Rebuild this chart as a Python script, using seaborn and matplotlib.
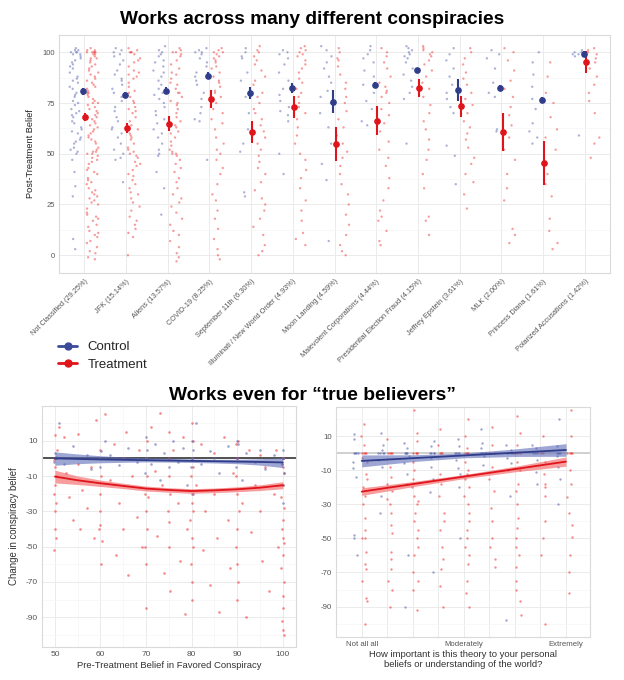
import numpy as np
import pandas as pd
import seaborn as sns
import matplotlib.pyplot as plt
from matplotlib.lines import Line2D

# ---------------- data: top panel (belief by conspiracy) ----------------
cat_labels = ['Not Classified (29.25%)', 'JFK (15.14%)', 'Aliens (13.57%)', 'COVID-19 (8.25%)',
              'September 11th (6.30%)', 'Illuminati / New World Order (4.93%)', 'Moon Landing (4.59%)',
              'Malevolent Corporations (4.44%)', 'Presidential Election Fraud (4.15%)',
              'Jeffrey Epstein (3.61%)', 'MLK (2.00%)', 'Princess Diana (1.61%)',
              'Polarized Accusations (1.42%)']

ctrl_mean = [80.7, 79.0, 81.0, 88.5, 79.8, 82.5, 75.7, 84.1, 91.1, 81.5, 82.6, 76.4, 99.2]
ctrl_ci = [1.7, 1.6, 1.8, 1.9, 3.0, 2.5, 5.6, 1.1, 1.1, 5.5, 1.5, 1.4, 1.6]
treat_mean = [68.0, 62.6, 64.8, 77.0, 60.8, 73.0, 54.8, 66.2, 82.3, 73.3, 60.8, 45.4, 95.2]
treat_ci = [2.0, 2.5, 3.7, 4.5, 5.5, 5.5, 8.6, 7.2, 4.3, 5.0, 9.2, 11.0, 5.5]

ctrl_points = [
    [100, 101, 99, 102, 98, 97, 100, 95, 93, 101, 90, 96, 88, 92, 85, 87, 83, 80, 82, 78, 76, 75, 74, 72,
     70, 71, 68, 66, 65, 63, 62, 60, 58, 57, 55, 52, 51, 50, 53, 47, 41, 34, 29, 8, 3, 99, 100, 94, 86,
     79, 69, 61, 56],
    [102, 100, 98, 101, 96, 94, 91, 89, 87, 84, 82, 80, 78, 76, 73, 71, 68, 66, 63, 60, 58, 55, 52, 50,
     48, 47, 36, 99, 86, 62],
    [103, 101, 100, 99, 98, 96, 95, 93, 91, 90, 88, 86, 84, 82, 80, 79, 77, 75, 73, 71, 69, 67, 65, 62,
     60, 58, 55, 52, 50, 49, 41, 33, 20],
    [102, 101, 100, 100, 99, 97, 95, 93, 90, 88, 86, 84, 80, 77, 73, 70, 67, 66, 47],
    [102, 100, 98, 97, 90, 86, 78, 70, 62, 55, 51, 31, 29],
    [101, 100, 99, 97, 94, 90, 86, 82, 79, 76, 73, 71, 69, 66, 50, 40],
    [103, 101, 98, 95, 92, 88, 85, 81, 78, 75, 70, 63, 55, 45, 37, 7],
    [103, 101, 99, 97, 95, 91, 88, 84, 80, 76, 72, 66, 64],
    [103, 102, 101, 100, 99, 98, 97, 95, 92, 89, 86, 83, 80, 77, 55],
    [102, 99, 96, 92, 88, 84, 80, 77, 73, 70, 54, 49, 35],
    [101, 99, 97, 92, 85, 80, 78, 62, 61],
    [100, 95, 89, 83, 77, 72, 65, 61, 58, 55],
    [101, 100, 100, 99, 99, 98, 59],
]
treat_points = [
    [101, 100, 102, 99, 100, 98, 101, 97, 100, 96, 99, 95, 93, 100, 92, 90, 91, 88, 100, 87, 85, 84, 86,
     82, 80, 81, 80, 79, 77, 78, 75, 76, 75, 73, 72, 70, 71, 69, 67, 68, 65, 66, 63, 62, 60, 61, 58, 59,
     56, 55, 53, 52, 51, 50, 50, 49, 51, 48, 46, 45, 43, 42, 40, 41, 38, 36, 35, 33, 32, 30, 31, 28, 27,
     25, 26, 23, 21, 20, 18, 17, 15, 14, 12, 10, 9, 7, 6, 4, 2, 1, -1, -2, 97, 94, 89, 83, 74, 64, 57,
     47, 37, 29, 19, 11],
    [102, 101, 100, 99, 100, 97, 95, 96, 93, 91, 89, 90, 87, 85, 83, 81, 80, 78, 76, 75, 73, 71, 70, 68,
     66, 64, 62, 60, 59, 57, 55, 53, 52, 51, 50, 49, 48, 46, 44, 42, 40, 39, 37, 35, 33, 31, 30, 28, 26,
     24, 22, 19, 17, 15, 13, 11, 9, 0, 100, 88, 72, 58, 45],
    [102, 101, 100, 99, 98, 100, 96, 94, 92, 90, 89, 87, 85, 84, 82, 80, 80, 78, 76, 75, 74, 72, 70, 68,
     66, 64, 63, 61, 60, 58, 56, 54, 52, 51, 50, 50, 49, 47, 45, 43, 41, 38, 36, 33, 30, 28, 26, 24, 21,
     18, 15, 12, 10, 7, 4, 1, -1, -3],
    [102, 101, 100, 100, 99, 98, 97, 96, 95, 93, 92, 90, 88, 86, 85, 83, 81, 80, 78, 75, 72, 70, 67, 65,
     62, 58, 55, 52, 50, 47, 43, 40, 35, 30, 27, 22, 18, 13, 8, 3, 0, -2],
    [103, 101, 100, 98, 96, 94, 91, 88, 86, 84, 80, 78, 75, 72, 70, 67, 64, 61, 58, 55, 52, 49, 46, 43,
     40, 36, 32, 28, 25, 22, 18, 14, 10, 5, 2, 0],
    [103, 102, 101, 100, 99, 98, 96, 94, 92, 90, 87, 85, 82, 80, 78, 75, 73, 70, 67, 63, 59, 55, 50, 47,
     42, 38, 33, 27, 22, 17, 11, 8, 5],
    [102, 100, 97, 96, 93, 89, 85, 82, 78, 75, 71, 67, 63, 59, 55, 51, 48, 44, 40, 35, 30, 25, 20, 15,
     10, 5, 2, 0],
    [102, 100, 98, 95, 92, 88, 85, 83, 81, 80, 78, 75, 72, 69, 65, 61, 56, 52, 48, 44, 38, 33, 27, 22,
     19, 17, 12, 7, 5],
    [103, 102, 101, 100, 99, 98, 96, 94, 91, 88, 85, 82, 78, 74, 70, 66, 62, 57, 52, 47, 40, 33, 19, 17, 10],
    [102, 100, 97, 94, 90, 87, 84, 80, 77, 74, 70, 66, 63, 60, 57, 53, 48, 45, 40, 36, 30, 23],
    [102, 100, 96, 91, 86, 82, 78, 73, 69, 64, 58, 52, 47, 40, 33, 27, 13, 10, 6],
    [95, 88, 80, 75, 68, 62, 58, 52, 46, 40, 35, 29, 18, 12, 6, 3],
    [102, 101, 100, 99, 97, 95, 92, 88, 84, 80, 76, 70, 58, 55, 48],
]

# ---------------- data: bottom-left (change vs pre-treatment belief) ----------------
left_treat = [
    (50, 0), (50, 0), (50.3, 0), (49.8, -1), (50, -5), (50.2, -10), (50, -15), (49.7, -20), (50.3, -25),
    (50, -40), (50.2, -45), (49.8, -52), (50, 13), (50.4, 5), (50, -30),
    (51, 18), (52, 12), (52.5, -8), (53, -22), (54, -35), (55, 14), (55, -3), (55.5, -40), (56, -18),
    (57, -28), (58, -5), (58.5, -45), (59, 22),
    (60, 0), (60, 0), (60.2, -10), (59.8, -20), (60, -38), (60.3, -47), (59.7, -40), (60, 5),
    (60.2, -60), (60, -30),
    (61, 25), (62, -12), (63, 8), (63.5, -55), (64, -25), (65, 0), (65, -40), (65.5, 15), (66, -66),
    (67, -10), (68, -33), (68.5, 5), (69, -50),
    (70, 0), (70, 0), (70.2, -10), (69.8, -20), (70, -30), (70.3, -40), (69.7, -50), (70, -60),
    (70.1, 10), (70, -85), (70.4, -22),
    (71, 18), (72, -7), (72.5, -44), (73, 26), (73.5, -15), (74, -65),
    (75, 0), (75, -10), (75.2, -20), (74.8, -30), (75, -50), (75.3, -75), (75, 15), (75, -36),
    (76, 5), (77, -25), (77.5, -58), (78, 12), (78.5, -88), (79, -40),
    (80, 0), (80, 0), (80.2, -5), (79.8, -10), (80, -20), (80.3, -30), (79.7, -35), (80, -45),
    (80.2, -50), (79.8, -60), (80, -70), (80.1, -80), (80, 20), (80.3, 10), (80, -25),
    (81, -15), (82, 8), (82.5, -52), (83, -30), (84, -72), (85, 3), (85, -20), (85.5, -45), (86, -87),
    (87, 12), (88, -35), (88.5, -62), (89, -8),
    (90, 0), (90, 0), (90.2, 10), (89.8, -10), (90, -20), (90.3, -30), (90, -40), (89.7, -50),
    (90, -60), (90.2, -70), (90, -80), (89.8, 8),
    (91, -25), (92, -90), (92.5, 5), (93, -42), (94, -15), (95, 2), (95, -30), (95.5, -58), (96, -5),
    (97, -75), (98, -20), (98.5, 5), (99, -50),
    (100, 0), (100, 0), (100, 0), (100, 0), (99.8, -3), (100.2, -8), (100, -15), (99.7, -22),
    (100.3, -28), (100, -35), (99.8, -40), (100.2, -48), (100, -55), (99.7, -62), (100.3, -70),
    (100, -78), (100.1, -85), (99.8, -92), (100, -97), (100.2, -100), (100, -5), (100, -45),
]
left_ctrl = [
    (50, 0), (50, 0), (50.3, 1), (49.8, -2), (50, 3), (51, 20), (52, -3), (54, 7), (55, 0), (57, 2),
    (58, -6), (60, 0), (60, 0), (60.2, 4), (59.8, -5), (61, 10), (62, 2), (64, -4), (65, 0), (66, 6),
    (68, -2), (70, 0), (70, 0), (70.2, 5), (69.8, -8), (70, 12), (71, -3), (72, 8), (73, -12), (74, 3),
    (75, 0), (75, -5), (76, 10), (77, -2), (78, 6), (79, -15),
    (80, 0), (80, 0), (80.2, 5), (79.8, -5), (80, 10), (80.3, -20), (81, 20), (82, -3), (84, 4),
    (85, 0), (86, -8), (88, 7),
    (90, 0), (90, 0), (90.2, 8), (89.8, -5), (90, 10), (91, -12), (92, 3), (94, -2), (95, 5), (96, -6),
    (98, 2), (100, 0), (100, 0), (100, 0), (99.8, -3), (100.2, -8), (100, -15), (100, 5), (100, -25),
]
left_knots = [50, 55, 60, 65, 70, 75, 80, 85, 90, 95, 100]
left_ctrl_fit = [0, -0.3, -0.6, -0.8, -1.0, -1.2, -1.4, -1.6, -1.8, -2.0, -2.3]
left_ctrl_lo = [-3.9, -3.0, -2.5, -2.2, -2.0, -2.1, -2.3, -2.6, -3.0, -3.8, -5.2]
left_ctrl_hi = [3.7, 2.5, 1.5, 0.8, 0.3, 0.0, -0.3, -0.5, -0.5, -0.2, 0.4]
left_treat_fit = [-10.3, -12.4, -14.1, -15.6, -17.1, -17.9, -18.5, -18.1, -17.5, -16.6, -15.2]
left_treat_lo = [-13.9, -14.8, -15.9, -17.1, -18.5, -19.2, -19.8, -19.4, -18.9, -18.2, -17.2]
left_treat_hi = [-6.7, -10.0, -12.3, -14.1, -15.7, -16.6, -17.2, -16.8, -16.1, -15.0, -13.2]

# ---------------- data: bottom-right (change vs importance) ----------------
imp_levels = [1, 2, 3, 4, 5, 6, 7, 8, 9]
imp_labels = ['Not all all', '', '', '', 'Moderately', '', '', '', 'Extremely']
right_treat = [
    [0, 0, 0, 0, 10, 17, 5, -5, -12, -20, -25, -30, -38, -45, -50, -50, -58, -65, -68, -75, -85, -87, -100, -3, -15],
    [0, 0, 0, 0, 8, -8, -14, -22, -27, -30, -35, -42, -47, -58, -62, -68, -75, -80, -90, -18],
    [0, 0, 0, 0, 12, 25, 7, -5, -10, -15, -20, -25, -30, -35, -40, -45, -50, -55, -60, -70, -75, -80, -92, -28],
    [0, 0, 0, 14, 5, -12, -18, -25, -35, -40, -45, -55, -62, -68, -78, -90],
    [0, 0, 0, 0, 20, 10, 3, -5, -10, -15, -20, -25, -30, -35, -40, -45, -50, -55, -60, -65, -75, -82, -90, -12],
    [0, 0, 0, 15, 5, -8, -15, -22, -32, -40, -50, -55, -62, -67],
    [0, 0, 0, 0, 22, 12, 5, -5, -10, -18, -22, -30, -38, -44, -50, -55, -60, -67, -75, -80, -87, -95],
    [0, 0, 10, -5, -12, -18, -20, -25, -40, -50, -60, -100],
    [0, 0, 0, 0, 10, 25, -10, -18, -26, -35, -42, -49, -60, -70, -82],
]
right_ctrl = [
    [0, 0, 0, 0, 11, 8, -5, -9, -14, -48, -50, -60],
    [0, 0, 0, 0, 5, 2, -4, -8, -25, -35, 12],
    [0, 0, 0, 0, 6, 3, -2, -6, -12, -18, -60, -90],
    [0, 0, 0, 0, 7, 4, -3, -8, -15, -23, -70],
    [0, 0, 0, 0, 8, 4, -4, -9, -12, -20, -50],
    [0, 0, 0, 0, 6, 3, -2, -7, 14],
    [0, 0, 0, 0, 5, 2, -3, -6, -10, -25, -98],
    [0, 0, 0, 3, -4, -11, -18, 5],
    [0, 0, 0, 0, 4, -2, -8, 20, -30, -15],
]
right_knots = [1, 3, 5, 7, 9]
right_ctrl_fit = [-4.6, -3.0, -1.4, 0.2, 1.8]
right_ctrl_hw = [3.5, 2.0, 1.4, 2.2, 3.7]
right_treat_fit = [-22.6, -18.2, -13.8, -9.4, -5.0]
right_treat_hw = [2.2, 1.5, 1.2, 1.6, 2.7]

# ---------------- styling ----------------
sns.set_theme(style="white")
plt.rcParams['font.family'] = ['Liberation Sans', 'DejaVu Sans']
plt.rcParams['axes.unicode_minus'] = False
np.random.seed(3)

BLUE = "#303D8A"
RED = "#E0141B"
BLUE_PT = "#5B66B0"
RED_PT = "#F03A3A"
TICK_C = "#555555"


def style_axes(ax, labelsize=5.5):
    for sp in ax.spines.values():
        sp.set_color("#DADADA")
        sp.set_linewidth(0.8)
    ax.tick_params(which='both', length=0, colors=TICK_C, labelsize=labelsize, pad=3)
    ax.set_axisbelow(True)
    ax.grid(which='major', color='#EBEBEB', lw=0.7)
    ax.grid(which='minor', color='#F5F5F5', lw=0.5)


fig = plt.figure(figsize=(6.24, 6.8), dpi=100)

# ---------------- top panel ----------------
ax_top = fig.add_axes([59 / 624, 1 - 272.5 / 680, 551 / 624, 237.5 / 680])
rows = []
for cat, cv, tv in zip(cat_labels, ctrl_points, treat_points):
    rows += [(cat, 'Control', v) for v in cv]
    rows += [(cat, 'Treatment', v) for v in tv]
df_top = pd.DataFrame(rows, columns=['cat', 'group', 'value'])

sns.stripplot(data=df_top, x='cat', y='value', hue='group', order=cat_labels,
              hue_order=['Control', 'Treatment'], dodge=True, jitter=0.3, size=1.7,
              alpha=0.5, linewidth=0, palette={'Control': BLUE_PT, 'Treatment': RED_PT},
              legend=False, ax=ax_top)
pos = np.arange(len(cat_labels))
ax_top.errorbar(pos - 0.03, ctrl_mean, yerr=ctrl_ci, fmt='o', color=BLUE, ms=3.8,
                elinewidth=1.5, capsize=0, zorder=5)
ax_top.errorbar(pos + 0.03, treat_mean, yerr=treat_ci, fmt='o', color=RED, ms=3.8,
                elinewidth=1.5, capsize=0, zorder=5)

style_axes(ax_top, 5.5)
ax_top.set_xlim(-0.6, 12.6)
ax_top.set_ylim(-8.5, 108.5)
ax_top.set_yticks([0, 25, 50, 75, 100])
ax_top.set_yticks([12.5, 37.5, 62.5, 87.5], minor=True)
ax_top.set_xticks(pos, cat_labels, rotation=45, ha='right', rotation_mode='anchor', fontsize=5.3)
ax_top.tick_params(axis='x', length=2, color='#BBBBBB', pad=2)
ax_top.xaxis.grid(True, which='major', color='#EBEBEB', lw=0.7)
ax_top.set_xlabel('')
ax_top.set_ylabel('Post-Treatment Belief', fontsize=6.6, color='#222222')
ax_top.yaxis.set_label_coords(-0.044, 0.5)

handles = [Line2D([0], [0], color="#3C4A9A", lw=2, marker='o', ms=5),
           Line2D([0], [0], color=RED, lw=2, marker='o', ms=5)]
fig.legend(handles, ['Control', 'Treatment'], loc='upper left',
           bbox_to_anchor=(58 / 624, 1 - 341 / 680), frameon=False, fontsize=9.5,
           handlelength=1.45, handletextpad=0.8, labelspacing=0.4, borderpad=0,
           borderaxespad=0)

fig.text(0.5, 1 - 19 / 680, 'Works across many different conspiracies', ha='center',
         va='center', fontsize=13.8, fontweight='bold', color='black')
fig.text(0.5, 1 - 395 / 680, 'Works even for \u201ctrue believers\u201d', ha='center',
         va='center', fontsize=13.8, fontweight='bold', color='black')

# ---------------- bottom-left panel ----------------
ax_l = fig.add_axes([41.7 / 624, 1 - 647 / 680, 254.3 / 624, 241 / 680])
df_lt = pd.DataFrame(left_treat, columns=['pre', 'change'])
df_lc = pd.DataFrame(left_ctrl, columns=['pre', 'change'])
ax_l.axhline(0, color='#222222', lw=1.1, zorder=2)
sns.scatterplot(data=df_lt, x='pre', y='change', color=RED_PT, s=3.5, alpha=0.6,
                linewidth=0, ax=ax_l, zorder=3)
sns.scatterplot(data=df_lc, x='pre', y='change', color=BLUE_PT, s=3.5, alpha=0.6,
                linewidth=0, ax=ax_l, zorder=3)
ax_l.fill_between(left_knots, left_ctrl_lo, left_ctrl_hi, color="#5E6CB8", alpha=0.6,
                  lw=0, zorder=4)
ax_l.fill_between(left_knots, left_treat_lo, left_treat_hi, color="#F25C5C", alpha=0.6,
                  lw=0, zorder=4)
sns.lineplot(x=left_knots, y=left_ctrl_fit, color=BLUE, lw=1.3, ax=ax_l, zorder=5)
sns.lineplot(x=left_knots, y=left_treat_fit, color=RED, lw=1.3, ax=ax_l, zorder=5)

style_axes(ax_l, 6)
ax_l.set_xlim(47.1, 102.9)
ax_l.set_ylim(-106.9, 29.7)
ax_l.set_xticks([50, 60, 70, 80, 90, 100])
ax_l.set_xticks([55, 65, 75, 85, 95], minor=True)
ax_l.set_yticks([10, -10, -30, -50, -70, -90])
ax_l.set_yticks([20, 0, -20, -40, -60, -80, -100], minor=True)
ax_l.set_xlabel('Pre-Treatment Belief in Favored Conspiracy', fontsize=6.8, color='#333333')
ax_l.xaxis.set_label_coords(0.5, -0.06)
ax_l.set_ylabel('Change in conspiracy belief', fontsize=6.9, color='#333333')
ax_l.yaxis.set_label_coords(-0.089, 0.5)

# ---------------- bottom-right panel ----------------
ax_r = fig.add_axes([335.7 / 624, 1 - 637.3 / 680, 254.3 / 624, 230.3 / 680])
rrows = []
for lvl, cv, tv in zip(imp_levels, right_ctrl, right_treat):
    rrows += [(lvl, 'Control', v) for v in cv]
    rrows += [(lvl, 'Treatment', v) for v in tv]
df_r = pd.DataFrame(rrows, columns=['level', 'group', 'change'])
df_rc = df_r[df_r['group'] == 'Control'].assign(xpos=lambda d: d['level'] - 0.25)
df_rt = df_r[df_r['group'] == 'Treatment'].assign(xpos=lambda d: d['level'] + 0.1)

ax_r.axhline(0, color='#C8C8C8', lw=1.2, zorder=1)
sns.stripplot(data=df_rt, x='xpos', y='change', native_scale=True, jitter=0.12, size=1.7,
              color=RED_PT, alpha=0.6, linewidth=0, ax=ax_r, zorder=3)
sns.stripplot(data=df_rc, x='xpos', y='change', native_scale=True, jitter=0.12, size=1.7,
              color=BLUE_PT, alpha=0.6, linewidth=0, ax=ax_r, zorder=3)
rc_fit = np.array(right_ctrl_fit)
rt_fit = np.array(right_treat_fit)
ax_r.fill_between(right_knots, rc_fit - right_ctrl_hw, rc_fit + right_ctrl_hw,
                  color="#5E6CB8", alpha=0.6, lw=0, zorder=4)
ax_r.fill_between(right_knots, rt_fit - right_treat_hw, rt_fit + right_treat_hw,
                  color="#F25C5C", alpha=0.6, lw=0, zorder=4)
sns.lineplot(x=right_knots, y=right_ctrl_fit, color=BLUE, lw=1.3, ax=ax_r, zorder=5)
sns.lineplot(x=right_knots, y=right_treat_fit, color=RED, lw=1.3, ax=ax_r, zorder=5)

style_axes(ax_r, 5.6)
ax_r.set_xlim(-0.02, 9.94)
ax_r.set_ylim(-108, 27)
ax_r.set_xticks(imp_levels, imp_labels)
ax_r.set_yticks([10, -10, -30, -50, -70, -90])
ax_r.set_yticks([20, 0, -20, -40, -60, -80, -100], minor=True)
ax_r.xaxis.grid(True, which='major', color='#EBEBEB', lw=0.7)
ax_r.set_xlabel('How important is this theory to your personal\nbeliefs or understanding of the world?',
                fontsize=6.8, color='#333333', linespacing=1.2)
ax_r.xaxis.set_label_coords(0.5, -0.055)
ax_r.set_ylabel('')

fig.savefig('out.png', dpi=100)
